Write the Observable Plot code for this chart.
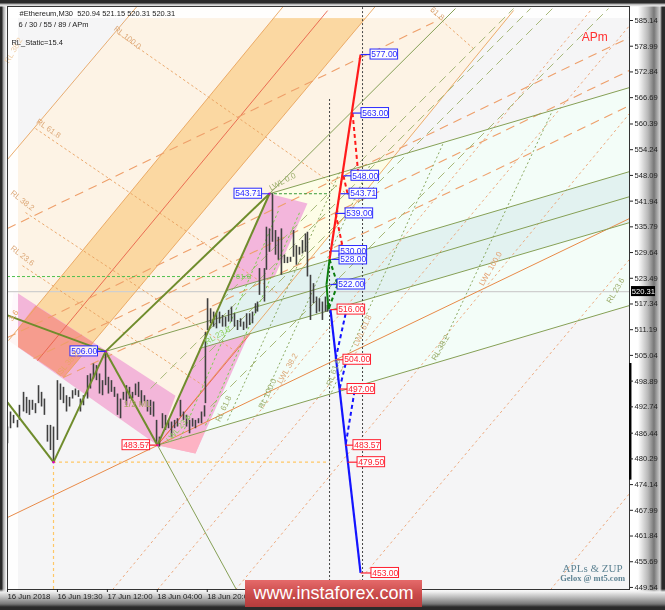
<!DOCTYPE html>
<html><head><meta charset="utf-8">
<script src="https://cdn.jsdelivr.net/npm/d3@7"></script>
<script src="https://cdn.jsdelivr.net/npm/@observablehq/plot@0.6"></script>
<style>
html,body{margin:0;padding:0;width:665px;height:610px;overflow:hidden;background:#fff}
#frame{position:absolute;left:0;top:0;width:665px;height:610px;
background-image:
 linear-gradient(to top,#2a2a2a 0,#2a2a2a 3px,#777 6px,#aaa 11px,#eee 18px,rgba(255,255,255,0) 21px),
 linear-gradient(to bottom,#2a2a2a 0,#2a2a2a 3px,#aaa 4px,#eee 6px,rgba(255,255,255,0) 7px),
 linear-gradient(to right,#2a2a2a 0,#2a2a2a 2px,#999 3px,#eee 6px,rgba(255,255,255,0) 7px),
 linear-gradient(to left,#2a2a2a 0,#2a2a2a 3px,#d0d0d0 5px,#777 11px,#b8b8b8 17px,#fff 27px,rgba(255,255,255,0) 36px);}
#chart{position:absolute;left:0;top:0}
#wm{position:absolute;left:245px;top:580px;width:177px;height:27px;background:linear-gradient(to bottom,#e56a6a,#c94a4a 55%,#b33c3c);color:#fff;font:18px "Liberation Sans",sans-serif;line-height:27px;text-align:center}
</style></head><body>
<div id="frame"></div><div id="chart"></div><div id="wm">www.instaforex.com</div>
<script>
// ---- axes
const priceTicks=[585.14,578.99,572.84,566.69,560.39,554.24,548.09,541.94,535.79,529.64,523.49,517.34,511.19,505.04,498.89,492.74,486.44,480.29,474.14,467.99,461.84,455.69,449.54];
const timeTicks=[0,33,66,99,132];
const timeLabels=["16 Jun 2018","16 Jun 19:30","17 Jun 12:00","18 Jun 04:00","18 Jun 20:00"];
const lastPrice=520.31;
// ---- bars (bar number, high, low)
const barIndex=[0,2,4,6.6,7.9,10.6,12.6,14.5,16.5,18.5,20.5,22.5,24.4,26.4,28.4,30.4,33,35,37,39,41,43,44.9,46.9,48.2,50.2,52.9,54.8,56.8,58.8,60.8,62.8,64.8,66.7,68.7,70.7,72.7,74.7,76.6,78.6,80.6,82.6,84.6,86.6,88.5,90.5,92.5,94.5,96.5,98.5,100.4,102.4,104.4,106.4,108.4,110.4,112.3,114.3,116.3,118.3,120.3,122.3,124.2,126.2,128.2,130.2,130.8,132.2,134.2,136.2,138.1,140.1,142.1,144.1,146.1,148,150,152,154,156,158,160,161.9,163.9,165.2,166.5,169.8,171.1,173.1,175.1,177.1,179,181,183,185,187,189,190.9,192.9,194.9,196.9,198.2,200.2,202.2,204.2,206.1,208.1,210.1,211.4];
const barHigh=[487.9,491.5,490.7,489.5,493.1,496.2,495,494.3,494.3,493.5,497.8,496.2,494.6,488.3,488.3,487.9,499,498.2,497.4,495.4,495,496.6,497,496.6,494.6,495.4,500.2,500.6,503,502.6,500.6,499,506,499.8,499,497.4,495.8,494.6,496.2,497.8,497.4,496.2,498.2,498.6,496.6,495.4,494.3,494.3,493.9,489.5,485.5,491.1,490.7,489.5,489.1,489.5,489.9,494.3,491.5,490.7,489.5,489.9,489.5,489.9,491.5,493,510.5,518.6,516.2,515.4,515,515.4,514.6,514.2,515.8,516.6,515,513.4,513.8,513,515,515,515.4,517.4,517.8,525.8,525.8,535.7,535.3,543.71,534.9,533.3,535.3,529,528.5,528.5,534.9,531.3,530.9,532.5,534.1,534.5,524.2,522.2,519,518.6,517.8,519,517,521.8];
const barLow=[483.9,487.5,488.7,487.7,489.5,491.5,491.1,490.7,491.9,491.1,493.5,492.7,490.7,484.3,482.3,479.5,484.7,494.3,493.5,491.5,492.7,494.6,495.4,495,491.5,493,494.6,497,499.4,499,495.8,495.4,497.8,495.8,496.2,495,490.7,489.9,494.3,493,494.6,494.6,495.4,495,493,493.9,491.5,490.7,490.3,483.9,483.1,487.5,487.1,487.5,485.5,487.5,487.9,490.3,489.5,487.9,486.3,487.9,487.5,488.7,488.7,490.3,493.5,511,512.6,511.8,511.4,512.6,511.8,511.8,513,513,511.8,511,511.8,511,511.4,512.2,512.6,515,515.4,519.4,517.8,525.4,529.7,532.1,529,527.8,524.2,527,527,527.3,528.5,526.6,529,529.3,529.7,523.8,513.4,517.4,515,515.4,513.4,515.4,515.4,515.8];
// ---- pivots
const pivots=[[30.4,479.5],[64.8,506],[99.1,483.57],[173.1,543.71]];
// ---- filled regions (bar, price outlines)
const paleOrange=[[0,508.9],[99.1,483.57],[334.4,587.53],[334.4,592],[95,592],[0,551.9]];
const bandOrange=[[0.66,508.6],[37,499.75],[246.5,590],[185.6,590]];
const paleGreen=[[173.1,543.71],[411,569.1],[411,516.97],[99.1,483.57]];
const paleYellow=[[173.1,543.71],[255.1,552.37],[99.1,483.57]];
const pinkQuad=[[173.1,543.71],[198.2,541.37],[124.2,481.6],[99.1,483.57]];
const pinkLow=[[99.1,483.57],[124.2,481.6],[130.8,487.3]];
const pinkBand=[[4,520.56],[111,495.4],[99.1,483.57],[0.66,508.6]];
const salmon=[[0.66,508.6],[37,499.75],[56.8,508.1],[18.5,516.97]];
const teal=[[144.7,520.56],[411,549],[411,536.8],[126.9,506.7]];
// ---- lines: bar1, price1, bar2, price2
const forkOrange=[[0,551.9,90,590.4],[0.66,508.6,185.6,590],[37,499.75,246.5,590],[99.1,483.57,334.4,587.53]];
const forkMedian=[[19.8,503.8,211.5,587.5],[99.1,483.57,160.6,510.3]];
const rlDash=[[72.7,582.03,230.6,542.09],[18.5,559.3,179.7,519.6],[11.9,539.2,150,506.2],[9.9,526.5,129.5,497.8],[279.5,587.5,307.9,578.4]];
const longDash=[[0,535.4,281.5,584.66],[0,509.3,411,581.07],[17.2,504.3,411,573.2],[37,499.75,411,564.8]];
const solidOrange=[[0,466.27,411,537.78]];
const steepOrange=[[358.8,449,411,472],[227.3,449,411,528],[150.7,449,411,562.9],[99.1,449,411,583.9],[69.4,449,385.2,587.5]];
const forkGreen=[[173.1,543.71,411,569.1],[144.7,520.56,411,549],[64.8,506,411,543],[126.9,506.7,411,536.8],[99.1,483.57,411,516.97],[173.1,543.71,296,588],[99.1,483.57,151.3,449]];
const oliveDash=[[141.4,518.2,334.4,588],[94.5,497.1,345.6,588],[120.3,501.2,360.1,588],[134.1,492.8,397.1,588]];
const steepGreen=[[214.1,496.2,288.1,555.96],[284.1,505,360.1,563.6],[145.4,489.5,219.4,548.8],[167.2,493.1,239.9,550.9]];
const limeDash=[[114.3,485.2,179.1,539.7],[130.8,488.3,193.6,539.7]];
const thickOlive=[[0,493.8,30.4,479.5],[30.4,479.5,64.8,506],[64.8,506,99.1,483.57],[99.1,483.57,173.1,543.71],[64.8,506,173.1,543.71],[0,514.6,64.8,506]];
const redSolid=[[212.8,528,233.3,577]];
const redDash=[[228,563,231.9,548],[222,548,224.7,543.71],[216.8,539,222,530]];
const blueSolid=[[213.4,516,233.3,453]];
const blueDash=[[223.4,515,216.7,504],[223.4,503,219.4,497],[229.3,496.5,223.4,483.57]];
const greenSolid=[[212.8,528,210.8,522],[210.8,522,212.1,516]];
const greenDash=[[212.8,528,218.1,522],[218.1,522,212.1,516]];
// ---- price labels: text value, node bar, box-left bar, kind
const labels=[
 [577,233.3,239.9,"b"],[563,228,233.9,"b"],[548,222,227.3,"b"],[543.71,220,226,"b"],[539,216.8,223.4,"b"],[530,214,219.4,"b"],[528,214,219.4,"b"],[522,213.4,218.1,"b"],
 [516,213.4,218.1,"r"],[504,216.7,222,"r"],[497,219.4,224.7,"r"],[483.57,223.4,228.6,"r"],[479.5,224.7,231.3,"r"],[453,233.3,240.5,"r"],
 [543.71,173.1,150,"b"],[506,64.8,41.6,"b"],[483.57,99.1,76,"r"]];
// ---- annotation texts: text, bar, price, rotation, colour, size
const orangeTxt="#dca878", oliveTxt="#9fb070", limeTxt="#8fcf5f";
const notes=[
 ["LWL 0.0",181.7,546.6,-28,oliveTxt,8],["RL 100.0",79.3,581.07,38,orangeTxt,8],["RL 61.8",27.1,559.3,35,orangeTxt,8],["RL 38.2",9.9,542.1,38,orangeTxt,8],["RL 23.6",9.9,528.9,38,orangeTxt,8],
 ["RL 38.2",4,578,-60,"#f0cfa8",8],["ISL 38.2",39.6,503.1,-50,"#e9a468",8],["3.6",4,514.6,-55,"#e9a468",8],["1/2 ML",85.9,493.3,0,"#a9a465",9],["61.8",284,586.8,40,orangeTxt,8],
 ["LWL 100.0",319.2,525.8,-60,"#e5a070",8],["RL 23.6",401.8,520.56,-60,oliveTxt,8],["RL 38.2",286.1,506.9,-60,oliveTxt,8],["LWL 61.8",234.6,511,-65,orangeTxt,8],["LWL 38.2",185,501.9,-60,orangeTxt,8],
 ["RL 100.0",171.8,495.9,-65,oliveTxt,8],["RL 61.8",142.7,492.3,-65,oliveTxt,8],["LWL 23.6",113,487.6,-50,limeTxt,8],["RL 23.6",138.8,509.8,-30,limeTxt,8],["61.8",156,523.9,0,limeTxt,8],["RL 61.8",215.4,501,-70,oliveTxt,8]];
const infoLines=[["#Ethereum,M30  520.94 521.15 520.31 520.31",8,586.8],["6 / 30 / 55 / 89 / APm",7.3,584.2],["RL_Static=15.4",2.6,579.9]];

const poly=(pts,fill,extra={})=>Plot.line(pts,{x:d=>d[0],y:d=>d[1],fill,stroke:"none",clip:true,...extra});
const seg=(rows,stroke,w,dash,extra={})=>Plot.link(rows,{x1:d=>d[0],y1:d=>d[1],x2:d=>d[2],y2:d=>d[3],stroke,strokeWidth:w,strokeDasharray:dash,clip:true,...extra});
const bars=barIndex.map((b,i)=>({b,h:barHigh[i],l:barLow[i]}));
const kindColor=k=>k==="b"?"#2a2aff":"#ff2030";
const labelRows=labels.map(([v,n,l,k])=>({v,n,l,k}));
const FONT='"Liberation Sans",sans-serif';

const plot=Plot.plot({
 width:665,height:610,marginLeft:7,marginRight:36,marginTop:6,marginBottom:21,
 style:{background:"transparent",fontFamily:FONT,overflow:"visible"},
 x:{domain:[0,411],axis:null},
 y:{domain:[449.05,588.49],axis:null},
 marks:[
  Plot.rect([0],{x1:()=>0,x2:()=>411,y1:()=>449.05,y2:()=>588.49,fill:"#f5f5f6"}),
  poly(paleOrange,"#fdf3e5"),
  poly(bandOrange,"#fbd8a2"),
  poly(paleGreen,"#f3fdf8"),
  poly(paleYellow,"#fdfde7"),
  poly(pinkBand,"#f3b6d9"),
  poly(salmon,"#f69c8e"),
  poly(pinkQuad,"#f3b6dc"),
  poly(pinkLow,"#fdb3c4"),
  poly(teal,"#e2f2f0",{mixBlendMode:"multiply"}),
  Plot.rect([0],{x1:()=>0,x2:()=>7.3,y1:()=>449.05,y2:()=>588.49,fill:"#fff",fillOpacity:.9}),
  Plot.rect([0],{x1:()=>0,x2:()=>411,y1:()=>585.6,y2:()=>588.49,fill:"#fff",fillOpacity:.9}),
  Plot.ruleY([lastPrice],{stroke:"#cfcfcf",strokeWidth:1.2}),
  seg(forkOrange,"#e9a45c",.9),
  seg(forkMedian,"#e8604a",.9),
  seg(rlDash,"#e8a060",.9,"2.5,2.5"),
  seg(longDash,"#ee9f6a",1.1,"9,6"),
  seg(solidOrange,"#e88a48",1),
  seg(steepOrange,"#eba070",.9,"2.5,3"),
  seg(oliveDash,"#a8b97a",1,"9,5"),
  seg(steepGreen,"#7f9f50",.9,"2,2.5"),
  seg(limeDash,"#7fcf4f",1,"2.5,2.5"),
  seg(forkGreen,"#86a056",1),
  Plot.ruleY([523.9],{x1:0,x2:160.6,stroke:"#4fc04f",strokeDasharray:"3,2",clip:true}),
  Plot.ruleY([543.71],{x1:173.1,x2:212.8,stroke:"#3a9a3a",strokeDasharray:"3,2",clip:true}),
  Plot.ruleY([479.5],{x1:30.4,x2:213,stroke:"#ffc766",strokeWidth:1.2,strokeDasharray:"3,3",clip:true}),
  Plot.ruleX([30.4],{y1:449.05,y2:479.5,stroke:"#ffc766",strokeWidth:1.2,strokeDasharray:"3,3",clip:true}),
  Plot.ruleX(bars,{x:"b",y1:"l",y2:"h",stroke:"#404040",strokeWidth:1.6,clip:true}),
  seg(thickOlive,"#6f8c2c",2),
  Plot.ruleX([212.8,234.6],{y1:449.05,y2:566.7,stroke:"#444",strokeDasharray:"2,2"}),
  Plot.ruleX([234.6],{y1:566.7,y2:588.49,stroke:"#444",strokeDasharray:"2,2"}),
  seg(redDash,"#ff1a1a",2,"4,3"),
  seg(redSolid,"#ff1a1a",2.2),
  seg(greenDash,"#0c7d0c",2,"4,3"),
  seg(greenSolid,"#0c7d0c",2),
  seg(blueDash,"#1414ff",2,"4,3"),
  seg(blueSolid,"#1414ff",2.2),
  Plot.dot(pivots,{x:d=>d[0],y:d=>d[1],r:1.2,fill:"#e000c0"}),
  Plot.link(labelRows,{x1:"n",x2:"l",y1:"v",y2:"v",stroke:d=>kindColor(d.k),strokeWidth:1.2}),
  Plot.rect(labelRows,{x1:"l",x2:d=>d.l+18.2,y1:d=>d.v-1.2,y2:d=>d.v+1.2,fill:"#fff",fillOpacity:.85,stroke:d=>kindColor(d.k),strokeWidth:1}),
  Plot.text(labelRows,{x:d=>d.l+9.1,y:"v",text:d=>d.v.toFixed(2),fill:d=>kindColor(d.k),fontSize:8.5,fontFamily:FONT}),
  ...notes.map(([t,b,p,r,c,s])=>Plot.text([t],{x:()=>b,y:()=>p,text:d=>d,rotate:r,fill:c,fontSize:s,fontFamily:FONT})),
  Plot.text(infoLines,{x:d=>d[1],y:d=>d[2],text:d=>d[0],textAnchor:"start",fill:"#222",fontSize:7.5,fontFamily:FONT}),
  Plot.text(["APm"],{x:()=>388,y:()=>581.07,text:d=>d,fill:"#ff3030",fontSize:12,fontFamily:FONT}),
  Plot.text(["APLs & ZUP"],{x:()=>386.6,y:()=>454.1,text:d=>d,fill:"#5f8494",fontSize:11,fontFamily:'"Liberation Serif",serif'}),
  Plot.text(["Gelox @ mt5.com"],{x:()=>386.6,y:()=>451.7,text:d=>d,fill:"#5f8494",fontSize:8.5,fontWeight:"bold",fontFamily:'"Liberation Serif",serif'}),
  Plot.frame({stroke:"#333",strokeWidth:1}),
  Plot.ruleX([411.5],{y1:475.2,y2:503.1,stroke:"#000",strokeWidth:2.4}),
  Plot.axisY(priceTicks,{anchor:"right",tickSize:3,tickPadding:2,tickFormat:d=>d.toFixed(2),fill:"#222",stroke:"#222",fontSize:7.6,fontFamily:FONT}),
  Plot.axisX(timeTicks,{anchor:"bottom",tickSize:3,tickPadding:1,textAnchor:"start",tickFormat:d=>timeLabels[timeTicks.indexOf(d)],fill:"#222",stroke:"#222",fontSize:7.8,fontFamily:FONT,label:null}),
  Plot.rect([lastPrice],{x1:()=>412.3,x2:()=>428.2,y1:d=>d-1.2,y2:d=>d+1.2,fill:"#000"}),
  Plot.text([lastPrice],{x:()=>420.2,y:d=>d,text:d=>d.toFixed(2),fill:"#fff",fontSize:7.6,fontFamily:FONT})
 ]
});
document.getElementById("chart").appendChild(plot);
</script></body></html>
